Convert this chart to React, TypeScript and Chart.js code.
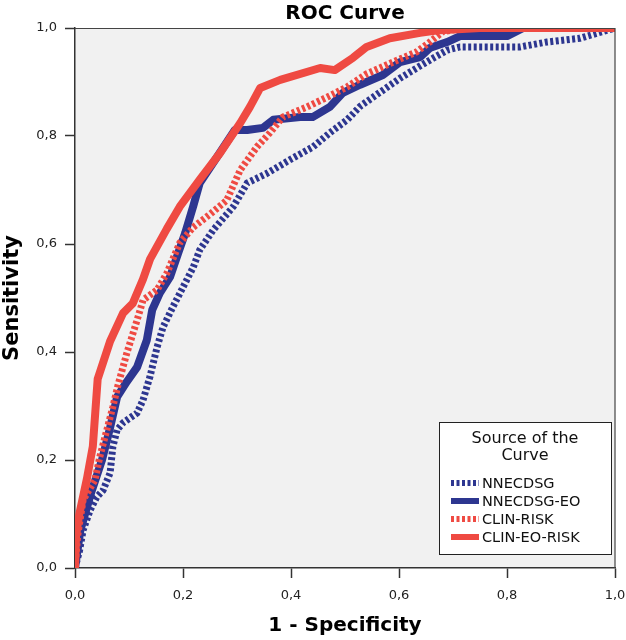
import { useEffect, useRef } from "react";
import { Chart, registerables } from "chart.js";

Chart.register(...registerables);

const seriesNames = ["NNECDSG", "NNECDSG-EO", "CLIN-RISK", "CLIN-EO-RISK"];
const seriesColors = ["#2d3690", "#2d3690", "#ef4a42", "#ef4a42"];
const seriesDashed = [true, false, true, false];

const nnecdsgX = [0, 0.008, 0.015, 0.028, 0.04, 0.052, 0.065, 0.07, 0.078, 0.089, 0.115, 0.126, 0.139, 0.152, 0.163, 0.181, 0.2, 0.219, 0.231, 0.256, 0.293, 0.319, 0.356, 0.398, 0.441, 0.472, 0.504, 0.528, 0.565, 0.602, 0.633, 0.663, 0.689, 0.713, 0.75, 0.824, 0.874, 0.935, 1];
const nnecdsgY = [0, 0.03, 0.07, 0.107, 0.131, 0.144, 0.176, 0.224, 0.256, 0.269, 0.287, 0.311, 0.355, 0.409, 0.446, 0.483, 0.52, 0.557, 0.589, 0.626, 0.669, 0.713, 0.731, 0.756, 0.78, 0.806, 0.83, 0.855, 0.881, 0.907, 0.926, 0.944, 0.959, 0.965, 0.965, 0.965, 0.974, 0.981, 1];

const nnecdsgEoX = [0, 0.01, 0.03, 0.05, 0.065, 0.078, 0.096, 0.115, 0.133, 0.143, 0.157, 0.176, 0.191, 0.204, 0.219, 0.231, 0.263, 0.296, 0.319, 0.348, 0.367, 0.417, 0.44, 0.472, 0.496, 0.528, 0.57, 0.602, 0.639, 0.657, 0.689, 0.713, 0.8, 0.83, 1];
const nnecdsgEoY = [0, 0.07, 0.14, 0.2, 0.26, 0.317, 0.345, 0.372, 0.422, 0.478, 0.509, 0.539, 0.583, 0.62, 0.67, 0.713, 0.761, 0.811, 0.811, 0.815, 0.83, 0.835, 0.835, 0.854, 0.88, 0.895, 0.913, 0.937, 0.946, 0.963, 0.974, 0.985, 0.985, 1, 1];

const clinRiskX = [0, 0.005, 0.015, 0.037, 0.046, 0.059, 0.07, 0.08, 0.096, 0.115, 0.126, 0.152, 0.17, 0.194, 0.219, 0.25, 0.281, 0.306, 0.337, 0.361, 0.385, 0.43, 0.467, 0.504, 0.54, 0.589, 0.633, 0.657, 0.681, 0.72, 1];
const clinRiskY = [0, 0.06, 0.126, 0.163, 0.206, 0.256, 0.298, 0.34, 0.398, 0.459, 0.496, 0.515, 0.546, 0.602, 0.631, 0.655, 0.681, 0.737, 0.78, 0.806, 0.835, 0.854, 0.872, 0.891, 0.915, 0.937, 0.956, 0.974, 0.993, 1, 1];

const clinEoRiskX = [0, 0.002, 0.008, 0.022, 0.033, 0.042, 0.065, 0.089, 0.107, 0.126, 0.139, 0.17, 0.194, 0.231, 0.269, 0.306, 0.324, 0.343, 0.38, 0.454, 0.481, 0.515, 0.54, 0.583, 0.639, 0.676, 0.75, 1];
const clinEoRiskY = [0, 0.06, 0.1, 0.165, 0.225, 0.35, 0.42, 0.472, 0.49, 0.535, 0.572, 0.628, 0.669, 0.719, 0.769, 0.824, 0.854, 0.889, 0.904, 0.926, 0.922, 0.945, 0.965, 0.981, 0.991, 0.996, 1, 1];

const seriesX = [nnecdsgX, nnecdsgEoX, clinRiskX, clinEoRiskX];
const seriesY = [nnecdsgY, nnecdsgEoY, clinRiskY, clinEoRiskY];

const chartTitle = "ROC Curve";
const xTitle = "1 - Specificity";
const yTitle = "Sensitivity";
const legendTitle = ["Source of the", "Curve"];

const FONT = "'DejaVu Sans', sans-serif";
const DASH = [3, 2.5];

const fmt = (v: number) => v.toFixed(1).replace(".", ",");

const bgPlugin = {
  id: "plotBg",
  beforeDraw(chart: any) {
    const { ctx, chartArea } = chart;
    ctx.save();
    ctx.fillStyle = "#f1f1f1";
    ctx.fillRect(chartArea.left, chartArea.top, chartArea.width, chartArea.height);
    ctx.restore();
  },
  afterDatasetsDraw(chart: any) {
    const { ctx, chartArea } = chart;
    ctx.save();
    ctx.strokeStyle = "#444";
    ctx.lineWidth = 1.2;
    ctx.beginPath();
    ctx.moveTo(chartArea.left, chartArea.top + 0.5);
    ctx.lineTo(chartArea.right, chartArea.top + 0.5);
    ctx.lineTo(chartArea.right, chartArea.bottom);
    ctx.stroke();
    ctx.restore();
  },
};

const legendPlugin = {
  id: "boxLegend",
  afterDraw(chart: any) {
    const { ctx, chartArea } = chart;
    const w = 172;
    const h = 132;
    const x0 = chartArea.right - 4 - w;
    const y0 = chartArea.bottom - 14 - h;
    ctx.save();
    ctx.fillStyle = "#ffffff";
    ctx.fillRect(x0, y0, w, h);
    ctx.strokeStyle = "#222";
    ctx.lineWidth = 1;
    ctx.strokeRect(x0 + 0.5, y0 + 0.5, w, h);
    ctx.fillStyle = "#111";
    ctx.textAlign = "center";
    ctx.textBaseline = "middle";
    ctx.font = `16px ${FONT}`;
    legendTitle.forEach((t, i) => ctx.fillText(t, x0 + w / 2, y0 + 17 + i * 17));
    ctx.textAlign = "left";
    ctx.font = `14.5px ${FONT}`;
    chart.data.datasets.forEach((ds: any, i: number) => {
      const yy = y0 + 61 + i * 18;
      ctx.beginPath();
      ctx.strokeStyle = ds.borderColor;
      ctx.lineWidth = 6;
      ctx.lineCap = "butt";
      ctx.setLineDash(ds.borderDash || []);
      ctx.moveTo(x0 + 12, yy);
      ctx.lineTo(x0 + 40, yy);
      ctx.stroke();
      ctx.setLineDash([]);
      ctx.fillStyle = "#111";
      ctx.fillText(ds.label, x0 + 43, yy + 1);
    });
    ctx.restore();
  },
};

export default function App() {
  const ref = useRef<HTMLCanvasElement | null>(null);

  useEffect(() => {
    if (!ref.current) return;
    const datasets = seriesNames.map((name, i) => ({
      label: name,
      data: seriesX[i].map((x, j) => ({ x, y: seriesY[i][j] })),
      borderColor: seriesColors[i],
      backgroundColor: seriesColors[i],
      borderWidth: seriesDashed[i] ? 7 : 8,
      borderDash: seriesDashed[i] ? DASH : [],
      borderCapStyle: "butt",
      borderJoinStyle: seriesDashed[i] ? "miter" : "round",
      showLine: true,
      pointRadius: 0,
      pointHoverRadius: 0,
      tension: 0,
      fill: false,
      clip: 0,
      order: 3 - i,
    }));

    const chart = new Chart(ref.current, {
      type: "scatter",
      data: { datasets: datasets as any },
      plugins: [bgPlugin, legendPlugin],
      options: {
        animation: false,
        responsive: false,
        maintainAspectRatio: false,
        events: [],
        layout: { padding: { left: 0, right: 11, top: 0, bottom: 0 } },
        plugins: {
          legend: { display: false },
          tooltip: { enabled: false },
          title: {
            display: true,
            fullSize: false,
            text: chartTitle,
            color: "#000",
            font: { family: FONT, size: 20, weight: "bold" },
            padding: { top: 2, bottom: 2 },
          },
        },
        scales: {
          x: {
            type: "linear",
            min: 0,
            max: 1,
            afterFit: (s: any) => {
              s.height = 72;
              s.paddingLeft = 0;
              s.paddingRight = 0;
            },
            ticks: {
              stepSize: 0.2,
              callback: (v: any) => fmt(Number(v)),
              color: "#222",
              font: { family: FONT, size: 13 },
              padding: 10,
              maxRotation: 0,
            },
            grid: {
              drawOnChartArea: false,
              drawTicks: true,
              tickLength: 10,
              tickColor: "#333",
              tickWidth: 1.5,
            },
            border: { display: true, color: "#333", width: 1.5 },
            title: {
              display: true,
              text: xTitle,
              color: "#000",
              font: { family: FONT, size: 20, weight: "bold" },
              padding: { top: 0, bottom: 2 },
            },
          },
          y: {
            type: "linear",
            min: 0,
            max: 1,
            afterFit: (s: any) => {
              s.width = 75;
            },
            ticks: {
              stepSize: 0.2,
              callback: (v: any) => fmt(Number(v)),
              color: "#222",
              font: { family: FONT, size: 13 },
              padding: 8,
            },
            grid: {
              drawOnChartArea: false,
              drawTicks: true,
              tickLength: 10,
              tickColor: "#333",
              tickWidth: 1.5,
            },
            border: { display: true, color: "#333", width: 1.5 },
            title: {
              display: true,
              text: yTitle,
              color: "#000",
              font: { family: FONT, size: 21, weight: "bold" },
              padding: { top: 0, bottom: 0 },
            },
          },
        },
      } as any,
    });
    return () => chart.destroy();
  }, []);

  return (
    <div style={{ position: "fixed", left: 0, top: 0, width: 626, height: 640, background: "#fff" }}>
      <canvas ref={ref} width={626} height={640} style={{ display: "block", width: 626, height: 640 }} />
    </div>
  );
}
